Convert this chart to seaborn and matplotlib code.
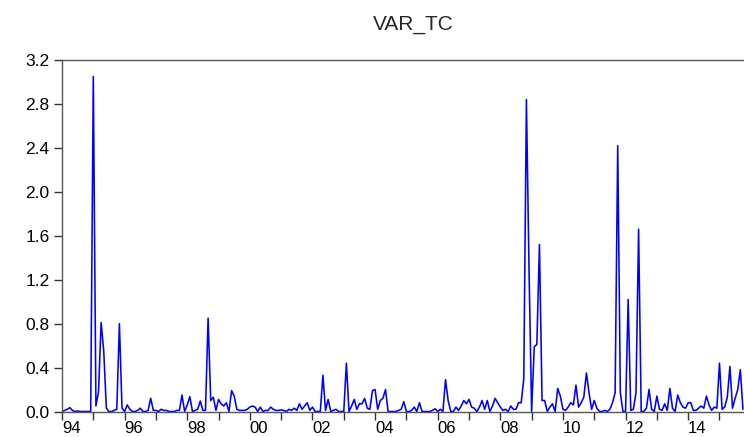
import numpy as np
import pandas as pd
import matplotlib
matplotlib.use('Agg')
import matplotlib.pyplot as plt
import seaborn as sns

# monthly series, 1994M01 .. 2015M10
var_tc = [
    0.0, 0.01, 0.02, 0.035, 0.01, 0.0, 0.005, 0.0, 0.0, 0.0, 0.0, 0.0,        # 1994
    3.05, 0.05, 0.18, 0.81, 0.55, 0.03, 0.0, 0.0, 0.01, 0.02, 0.80, 0.03,     # 1995
    0.0, 0.06, 0.02, 0.0, 0.0, 0.01, 0.03, 0.0, 0.0, 0.01, 0.12, 0.01,        # 1996
    0.01, 0.0, 0.02, 0.01, 0.01, 0.0, 0.0, 0.0, 0.01, 0.01, 0.15, 0.0,        # 1997
    0.06, 0.135, 0.0, 0.01, 0.02, 0.095, 0.01, 0.01, 0.85, 0.10, 0.13, 0.01,  # 1998
    0.11, 0.07, 0.05, 0.08, 0.0, 0.19, 0.14, 0.02, 0.01, 0.01, 0.01, 0.02,    # 1999
    0.04, 0.05, 0.04, 0.0, 0.04, 0.0, 0.01, 0.01, 0.04, 0.02, 0.01, 0.01,     # 2000
    0.015, 0.01, 0.0, 0.02, 0.01, 0.03, 0.01, 0.07, 0.02, 0.05, 0.08, 0.01,   # 2001
    0.04, 0.0, 0.0, 0.0, 0.33, 0.01, 0.11, 0.0, 0.01, 0.02, 0.0, 0.0,         # 2002
    0.0, 0.44, 0.0, 0.05, 0.11, 0.02, 0.07, 0.07, 0.12, 0.03, 0.02, 0.19,     # 2003
    0.20, 0.02, 0.10, 0.12, 0.20, 0.0, 0.0, 0.0, 0.0, 0.01, 0.02, 0.09,       # 2004
    0.0, 0.0, 0.01, 0.04, 0.0, 0.08, 0.0, 0.0, 0.0, 0.0, 0.01, 0.025,         # 2005
    0.0, 0.02, 0.0, 0.29, 0.10, 0.0, 0.0, 0.04, 0.01, 0.05, 0.10, 0.07,       # 2006
    0.11, 0.04, 0.03, 0.0, 0.04, 0.10, 0.02, 0.10, 0.0, 0.05, 0.12, 0.08,     # 2007
    0.04, 0.01, 0.02, 0.0, 0.05, 0.02, 0.02, 0.08, 0.08, 0.30, 2.84, 1.30,    # 2008
    0.0, 0.59, 0.61, 1.52, 0.10, 0.10, 0.0, 0.04, 0.07, 0.0, 0.21, 0.14,      # 2009
    0.02, 0.01, 0.04, 0.08, 0.06, 0.24, 0.04, 0.08, 0.13, 0.35, 0.17, 0.02,   # 2010
    0.10, 0.03, 0.0, 0.0, 0.01, 0.0, 0.02, 0.08, 0.17, 2.42, 0.17, 0.0,       # 2011
    0.0, 1.02, 0.01, 0.02, 0.17, 1.66, 0.0, 0.0, 0.03, 0.20, 0.02, 0.0,       # 2012
    0.14, 0.02, 0.01, 0.07, 0.01, 0.21, 0.03, 0.0, 0.15, 0.08, 0.04, 0.03,    # 2013
    0.08, 0.08, 0.01, 0.01, 0.03, 0.05, 0.03, 0.14, 0.06, 0.01, 0.04, 0.03,   # 2014
    0.44, 0.02, 0.04, 0.13, 0.41, 0.03, 0.12, 0.20, 0.38, 0.02,               # 2015
]
years = list(range(1994, 2016))
year_labels = [f"{y % 100:02d}" for y in years]

df = pd.DataFrame({'obs': np.arange(len(var_tc)), 'VAR_TC': var_tc})

sns.set_style("ticks")
plt.rcParams['font.family'] = ['Liberation Sans', 'DejaVu Sans']

fig = plt.figure(figsize=(7.44, 4.37), dpi=100)
ax = fig.add_axes([62 / 744, 1 - 411.5 / 437, 1 - 62 / 744, 351.5 / 437])

sns.lineplot(data=df, x='obs', y='VAR_TC', ax=ax, color='#0000ff', linewidth=1.15)

ax.set_xlim(0, len(var_tc) - 0.6)
ax.set_ylim(0, 3.2)
yt = np.arange(0, 3.21, 0.4)
ax.set_yticks(yt)
ax.set_yticklabels([f"{v:.1f}" for v in yt], fontsize=12.5)

tick_pos = [12 * k for k in range(len(years))]
ax.set_xticks(tick_pos)
ax.set_xticklabels([lab if y % 2 == 0 else '' for y, lab in zip(years, year_labels)],
                   fontsize=12, ha='left')
ax.tick_params(axis='both', direction='out', length=6, width=1, colors='#333333', labelcolor='black')
ax.tick_params(axis='y', pad=3)
ax.tick_params(axis='x', pad=1)

ax.set_xlabel('')
ax.set_ylabel('')
ax.set_title('VAR_TC', fontsize=15, pad=22, x=(413 - 62) / 682)

for side in ['top', 'left', 'bottom']:
    ax.spines[side].set_visible(True)
    ax.spines[side].set_color('#555555')
    ax.spines[side].set_linewidth(1)
ax.spines['right'].set_visible(False)

fig.savefig('out.png', dpi=100)
